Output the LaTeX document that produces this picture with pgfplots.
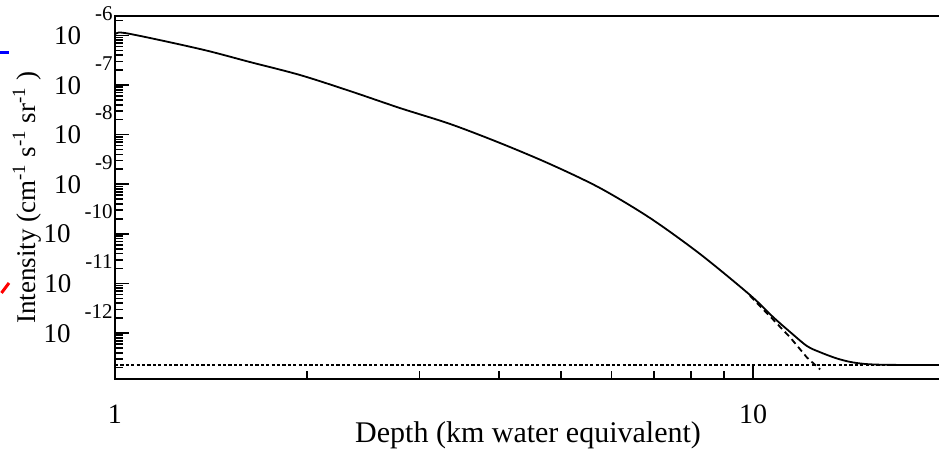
\documentclass[border=0pt]{standalone}
\usepackage{fontspec}
\setmainfont{Liberation Serif}
\usepackage{pgfplots}
\pgfplotsset{compat=1.18}
\newcommand{\yl}[1]{10\hspace{7pt}\raisebox{12pt}{\fontsize{10.5}{10.5}\selectfont -#1}}
\begin{document}
\begin{tikzpicture}
\useasboundingbox (-57.5pt,-35.5pt) rectangle (412pt,189.5pt);
\begin{axis}[
  at={(0,0)}, anchor=south west,
  scale only axis, width=415.05pt, height=181.5pt,
  xmode=log, ymode=log,
  xmin=1, xmax=20, ymin=1.183e-13, ymax=2.46e-6,
  axis line style={line width=1pt},
  tick align=inside, xtick pos=left, ytick pos=left,
  major tick length=7pt, minor tick length=4pt,
  every tick/.style={line width=0.8pt, black},
  xtick={1,10}, xticklabels={1,10},
  minor xtick={2,3,4,5,6,7,8,9},
  ytick={1e-12,1e-11,1e-10,1e-9,1e-8,1e-7,1e-6},
  yticklabels={\yl{12},\yl{11},\yl{10},\yl{9},\yl{8},\yl{7},\yl{6}},
  minor ytick={2e-13,3e-13,4e-13,5e-13,6e-13,7e-13,8e-13,9e-13,
               2e-12,3e-12,4e-12,5e-12,6e-12,7e-12,8e-12,9e-12,
               2e-11,3e-11,4e-11,5e-11,6e-11,7e-11,8e-11,9e-11,
               2e-10,3e-10,4e-10,5e-10,6e-10,7e-10,8e-10,9e-10,
               2e-9,3e-9,4e-9,5e-9,6e-9,7e-9,8e-9,9e-9,
               2e-8,3e-8,4e-8,5e-8,6e-8,7e-8,8e-8,9e-8,
               2e-7,3e-7,4e-7,5e-7,6e-7,7e-7,8e-7,9e-7,2e-6},
  xticklabel style={anchor=center, yshift=-17.5pt, font=\fontsize{14}{16}\selectfont},
  yticklabel style={anchor=base east, inner sep=0pt, xshift=-1pt, yshift=-4.5pt, font=\fontsize{13.5}{15}\selectfont},
  xlabel={Depth (km water equivalent)},
  xlabel style={at={(axis description cs:0.4976,-0.1543)}, anchor=center, inner sep=0pt, font=\fontsize{15}{17}\selectfont},
  ylabel={Intensity (cm\textsuperscript{-1} s\textsuperscript{-1} sr\textsuperscript{-1} )},
  ylabel style={at={(axis description cs:-0.106,0.5)}, anchor=center, inner sep=0pt, font=\fontsize{13.5}{15}\selectfont},
]
% flat background level (dotted)
\addplot[black, line width=0.6pt, dash pattern=on 1.6pt off 1.1pt] coordinates {(1,2.26e-13) (20,2.26e-13)};
% dashed curve (without the flat level)
\addplot[black, line width=0.9pt, dash pattern=on 3pt off 2pt] coordinates {
(9.893,5.6e-12) (10.75,1.87e-12) (11.43,8.2e-13) (12.15,3.2e-13) (12.74,1.85e-13)};
% solid total curve
\addplot[black, line width=0.9pt, smooth, tension=0.5] coordinates {
(1.00,1.00e-6) (1.0367,1.117e-6) (1.359,5.32e-7) (1.627,2.91e-7) (1.950,1.59e-7)
(2.335,7.56e-8) (2.797,3.43e-8) (3.351,1.64e-8) (4.012,6.78e-9) (4.806,2.55e-9)
(5.757,8.38e-10) (6.897,2.08e-10) (8.259,3.92e-11) (9.893,5.83e-12) (10.75,2.1e-12)
(11.43,1.05e-12) (12.15,5.46e-13) (12.74,4.1e-13) (13.5,3.1e-13) (14.19,2.62e-13)
(14.87,2.4e-13) (15.5,2.32e-13) (16.5,2.28e-13) (20,2.26e-13)};
\end{axis}
\draw[blue, line width=1.5pt] (-57.5pt,163pt) -- (-53pt,163pt);
\draw[red, line width=1.5pt] (-56.75pt,43pt) -- (-53pt,48pt);
\end{tikzpicture}
\end{document}
